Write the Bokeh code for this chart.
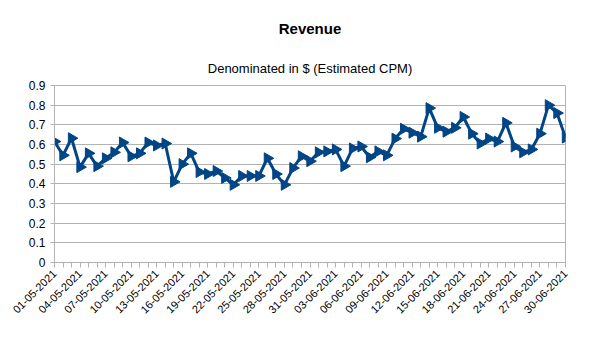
import math
import pandas as pd
from bokeh.plotting import figure
from bokeh.models import Range1d, FixedTicker, Title, ColumnDataSource
from bokeh.embed import file_html
from bokeh.resources import INLINE

dates = [d.strftime("%d-%m-%Y") for d in pd.date_range("2021-05-01", "2021-06-30", freq="D")]
revenue = [
    0.615, 0.545, 0.632, 0.485, 0.555, 0.49, 0.53, 0.56, 0.61, 0.54,
    0.555, 0.61, 0.595, 0.605, 0.41, 0.5, 0.555, 0.46, 0.45, 0.465,
    0.43, 0.395, 0.44, 0.44, 0.44, 0.53, 0.45, 0.395, 0.48, 0.54,
    0.515, 0.56, 0.565, 0.575, 0.49, 0.58, 0.59, 0.535, 0.565, 0.545,
    0.63, 0.68, 0.66, 0.64, 0.785, 0.685, 0.665, 0.685, 0.74, 0.655,
    0.605, 0.63, 0.615, 0.71, 0.59, 0.56, 0.575, 0.655, 0.80, 0.76, 0.635,
]
y_ticks = [0, 0.1, 0.2, 0.3, 0.4, 0.5, 0.6, 0.7, 0.8, 0.9]
y_tick_labels = ["0", "0.1", "0.2", "0.3", "0.4", "0.5", "0.6", "0.7", "0.8", "0.9"]
title_text = "Revenue"
subtitle_text = "Denominated in $ (Estimated CPM)"

FONT = "Liberation Sans"
BLUE = "#004586"
GRID = "#b3b3b3"

idx = list(range(len(dates)))
src = ColumnDataSource(dict(x=idx, y=revenue, d=dates))

p = figure(width=603, height=352, output_backend="svg", toolbar_location=None,
           x_range=Range1d(0, len(dates) - 1), y_range=Range1d(y_ticks[0], y_ticks[-1]),
           min_border_left=54, min_border_right=38, min_border_top=85, min_border_bottom=90)
p.title = None
p.background_fill_color = "white"
p.border_fill_color = "white"
p.outline_line_color = GRID
p.outline_line_width = 1

p.line("x", "y", source=src, line_color=BLUE, line_width=3)
p.scatter("x", "y", source=src, marker="triangle", size=11, angle=-math.pi / 2,
          fill_color=BLUE, line_color=BLUE)

# y axis
p.yaxis.ticker = FixedTicker(ticks=y_ticks)
p.yaxis.major_label_overrides = {t: l for t, l in zip(y_ticks, y_tick_labels)}
p.yaxis.axis_line_color = GRID
p.yaxis.major_tick_line_color = GRID
p.yaxis.major_tick_out = 4
p.yaxis.major_tick_in = 0
p.yaxis.minor_tick_line_color = None
p.yaxis.major_label_text_font = FONT
p.yaxis.major_label_text_font_size = "12px"
p.yaxis.major_label_text_color = "black"
p.yaxis.major_label_standoff = 5

# x axis
p.xaxis.ticker = FixedTicker(ticks=idx)
p.xaxis.major_label_overrides = {i: (dates[i] if i % 3 == 0 else "") for i in idx}
p.xaxis.major_label_orientation = math.pi / 4
p.xaxis.axis_line_color = GRID
p.xaxis.major_tick_line_color = GRID
p.xaxis.major_tick_out = 5
p.xaxis.major_tick_in = 0
p.xaxis.minor_tick_line_color = None
p.xaxis.major_label_text_font = FONT
p.xaxis.major_label_text_font_size = "11px"
p.xaxis.major_label_text_color = "black"
p.xaxis.major_label_standoff = 4

p.xgrid.grid_line_color = None
p.ygrid.grid_line_color = GRID
p.ygrid.grid_line_width = 1

sub = Title(text=subtitle_text, align="center", text_font=FONT, text_font_size="13px",
            text_font_style="normal", text_color="black", standoff=20, offset=0)
main = Title(text=title_text, align="center", text_font=FONT, text_font_size="15px",
             text_font_style="bold", text_color="black", standoff=24, offset=0)
p.add_layout(sub, "above")
p.add_layout(main, "above")

open("out.html", "w").write(file_html(p, INLINE))
